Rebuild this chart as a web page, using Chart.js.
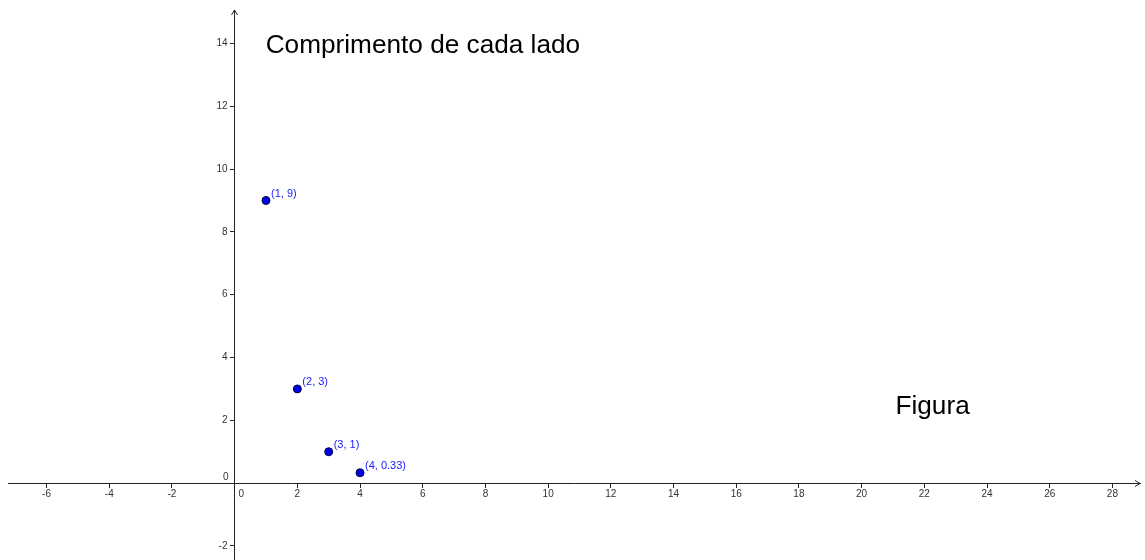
<!DOCTYPE html>
<html>
<head>
<meta charset="utf-8">
<script src="https://cdn.jsdelivr.net/npm/chart.js@4.4.1/dist/chart.umd.min.js"></script>
<style>
  html, body { margin: 0; padding: 0; background: #fff; }
  canvas { display: block; }
</style>
</head>
<body>
<canvas id="plot" width="1145" height="560"></canvas>
<script>
// pontos (x, y) e seus rótulos
const xValues = [1, 2, 3, 4];
const yValues = [9, 3, 1, 0.33];
const pointLabels = ["(1, 9)", "(2, 3)", "(3, 1)", "(4, 0.33)"];

// janela de visualização
const xRange = [-7.23, 28.88];
const yRange = [-2.289, 15.067];
const tickStep = 2;

// textos soltos no gráfico, posicionados em coordenadas do gráfico
const noteTexts = ["Comprimento de cada lado", "Figura"];
const noteX = [0.99, 21.08];
const noteY = [13.70, 2.21];

const axisColor = "#222";
const tickColor = "#333";
const tickFont = "10px 'Liberation Sans', Arial, sans-serif";

// mesmo alinhamento que o Chart.js usa para linhas de 1px
const align = (p) => Math.round(p - 0.5) + 0.5;

const extrasPlugin = {
  id: "extrasPlugin",
  afterDraw: (chart) => {
    const ctx = chart.ctx;
    const xs = chart.scales.x;
    const ys = chart.scales.y;
    const area = chart.chartArea;
    const x0 = align(xs.getPixelForValue(0));
    const y0 = align(ys.getPixelForValue(0));

    ctx.save();
    // setas dos eixos + eixo y até a borda de baixo
    ctx.strokeStyle = axisColor;
    ctx.lineWidth = 1;
    ctx.beginPath();
    ctx.moveTo(x0 - 3, area.top + 5);
    ctx.lineTo(x0, area.top);
    ctx.lineTo(x0 + 3, area.top + 5);
    ctx.moveTo(area.right - 5, y0 - 3);
    ctx.lineTo(area.right, y0);
    ctx.lineTo(area.right - 5, y0 + 3);
    ctx.moveTo(x0, area.bottom);
    ctx.lineTo(x0, chart.height);
    ctx.stroke();

    // rótulos do eixo y (à esquerda das marcas)
    ctx.fillStyle = tickColor;
    ctx.font = tickFont;
    ctx.textAlign = "right";
    ctx.textBaseline = "middle";
    ys.ticks.forEach((t) => {
      if (t.value === 0) return;
      ctx.fillText(String(t.value), x0 - 7, ys.getPixelForValue(t.value));
    });

    // os dois "0" perto da origem
    ctx.fillText("0", x0 - 6, y0 - 6);
    ctx.textAlign = "left";
    ctx.fillText("0", x0 + 4, y0 + 11);

    // rótulos dos pontos
    const meta = chart.getDatasetMeta(0);
    ctx.fillStyle = "#1a1aff";
    ctx.font = "11px 'Liberation Sans', Arial, sans-serif";
    ctx.textAlign = "left";
    ctx.textBaseline = "alphabetic";
    meta.data.forEach((pt, i) => {
      ctx.fillText(pointLabels[i], pt.x + 5, pt.y - 4);
    });

    // textos grandes
    ctx.fillStyle = "#000";
    ctx.font = "26.2px 'Liberation Sans', Arial, sans-serif";
    noteTexts.forEach((t, i) => {
      ctx.fillText(t, xs.getPixelForValue(noteX[i]), ys.getPixelForValue(noteY[i]));
    });
    ctx.restore();
  },
};

const hideZero = (value) => (value === 0 ? "" : value);
const noPadding = (scale) => {
  scale.paddingTop = 0;
  scale.paddingBottom = 0;
  scale.paddingLeft = 0;
  scale.paddingRight = 0;
};

new Chart(document.getElementById("plot").getContext("2d"), {
  type: "scatter",
  data: {
    datasets: [
      {
        data: xValues.map((x, i) => ({ x: x, y: yValues[i] })),
        backgroundColor: "#0000e6",
        borderColor: "#000044",
        borderWidth: 1,
        pointRadius: 4,
        pointHoverRadius: 4,
      },
    ],
  },
  plugins: [extrasPlugin],
  options: {
    responsive: false,
    animation: false,
    layout: { padding: { left: 8, right: 1, top: 10, bottom: 0 } },
    plugins: { legend: { display: false }, tooltip: { enabled: false } },
    scales: {
      x: {
        type: "linear",
        position: { y: 0 },
        min: xRange[0],
        max: xRange[1],
        afterFit: noPadding,
        border: { display: true, color: axisColor, width: 1 },
        grid: { drawOnChartArea: false, drawTicks: true, tickLength: 4, color: axisColor },
        ticks: {
          stepSize: tickStep,
          includeBounds: false,
          autoSkip: false,
          maxRotation: 0,
          padding: 1,
          color: tickColor,
          font: { size: 10, family: "'Liberation Sans', Arial, sans-serif" },
          callback: hideZero,
        },
      },
      y: {
        type: "linear",
        position: { x: 0 },
        min: yRange[0],
        max: yRange[1],
        afterFit: noPadding,
        border: { display: true, color: axisColor, width: 1 },
        grid: { drawOnChartArea: false, drawTicks: true, tickLength: 4, color: axisColor },
        ticks: {
          stepSize: tickStep,
          includeBounds: false,
          autoSkip: false,
          color: "rgba(0,0,0,0)",
          font: { size: 10, family: "'Liberation Sans', Arial, sans-serif" },
        },
      },
    },
  },
});
</script>
</body>
</html>
